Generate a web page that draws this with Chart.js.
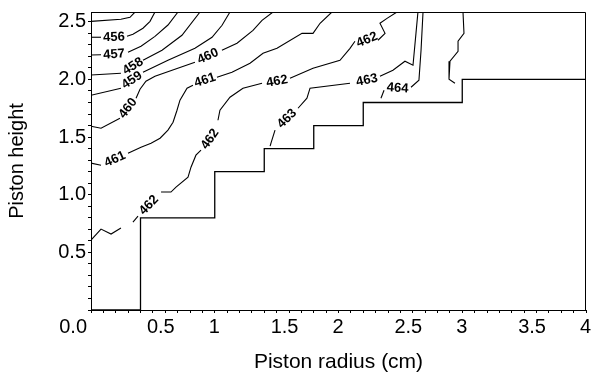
<!DOCTYPE html>
<html>
<head>
<meta charset="utf-8">
<script src="https://cdn.jsdelivr.net/npm/chart.js@4.4.1/dist/chart.umd.min.js"></script>
<style>
  html, body { margin: 0; padding: 0; background: #fff; }
  #wrap { width: 595px; height: 376px; }
</style>
</head>
<body>
<div id="wrap"><canvas id="myChart" width="595" height="376"></canvas></div>
<script>
// contour lines, each one split into pieces where the label sits ([radius, height])
const c455 = [[[0, 2.504], [0.242, 2.522], [0.315, 2.539], [0.356, 2.585]]];
const c456 = [[[0, 2.366], [0.081, 2.366]],
  [[0.291, 2.374], [0.339, 2.392], [0.420, 2.444], [0.477, 2.504], [0.517, 2.585]]];
const c457 = [[[0, 2.212], [0.081, 2.214]],
  [[0.299, 2.236], [0.404, 2.288], [0.517, 2.374], [0.622, 2.472], [0.703, 2.585]]];
const c458 = [[[0, 2.039], [0.242, 2.054]],
  [[0.420, 2.166], [0.574, 2.253], [0.735, 2.383], [0.881, 2.585]]];
const c459 = [[[0, 1.863], [0.242, 1.924]],
  [[0.420, 2.062], [0.622, 2.166], [0.840, 2.270], [0.978, 2.366], [1.059, 2.470], [1.123, 2.585]]];
const c460 = [[[0, 1.594], [0.081, 1.577], [0.234, 1.664]],
  [[0.364, 1.837], [0.396, 1.915], [0.444, 1.984], [0.517, 2.028], [0.655, 2.080], [0.840, 2.149]],
  [[1.058, 2.253], [1.180, 2.314], [1.309, 2.426], [1.382, 2.513], [1.471, 2.585]]];
const c461 = [[[0, 1.274], [0.081, 1.256]],
  [[0.299, 1.360], [0.404, 1.412], [0.485, 1.447], [0.558, 1.490], [0.622, 1.560], [0.663, 1.629],
   [0.695, 1.733], [0.719, 1.820], [0.776, 1.924], [0.824, 1.950]],
  [[1.018, 2.019], [1.139, 2.062], [1.285, 2.140], [1.390, 2.227], [1.503, 2.270], [1.705, 2.400],
   [1.794, 2.400], [1.851, 2.487], [1.947, 2.585]]];
const c462 = [[[0, 0.607], [0.081, 0.702], [0.162, 0.659], [0.242, 0.711]],
  [[0.339, 0.763], [0.380, 0.815]],
  [[0.566, 1.023], [0.646, 1.023], [0.687, 1.066], [0.784, 1.153], [0.808, 1.239], [0.848, 1.343], [0.889, 1.386]],
  [[1.026, 1.646], [1.042, 1.733], [1.123, 1.846], [1.228, 1.924], [1.382, 1.967]],
  [[1.608, 2.010], [1.794, 2.097], [2.012, 2.166], [2.093, 2.270], [2.133, 2.331]],
  [[2.319, 2.340], [2.376, 2.400], [2.335, 2.487], [2.392, 2.530], [2.473, 2.585]]];
const c463 = [[[1.447, 1.421], [1.487, 1.560]],
  [[1.673, 1.750], [1.745, 1.837], [1.770, 1.924], [2.093, 1.967]],
  [[2.335, 2.028], [2.440, 2.080], [2.537, 2.158], [2.602, 2.123], [2.626, 2.400], [2.642, 2.585]]];
const c464 = [[[2.343, 1.837], [2.368, 1.906]],
  [[2.586, 1.932], [2.650, 1.993], [2.667, 2.253], [2.683, 2.585]]];
const c465 = [[[3.006, 2.585], [3.014, 2.400], [2.966, 2.331], [2.966, 2.244], [2.901, 2.158], [2.893, 2.002], [2.941, 1.967]]];

// stepped boundary of the feasible region
const boundX = [0, 0.4, 0.4, 1, 1, 1.4, 1.4, 1.8, 1.8, 2.2, 2.2, 3, 3, 4];
const boundY = [0, 0, 0.8, 0.8, 1.2, 1.2, 1.4, 1.4, 1.6, 1.6, 1.8, 1.8, 2, 2];

// contour labels
const labelText  = ['456', '457', '458', '459', '460', '460', '461', '461', '462', '462', '462', '462', '463', '463', '464'];
const labelX     = [0.186, 0.186, 0.339, 0.331, 0.299, 0.945, 0.194, 0.921, 0.469, 0.962, 1.503, 2.230, 1.584, 2.230, 2.477];
const labelY     = [2.366, 2.218, 2.114, 1.993, 1.750, 2.201, 1.308, 1.993, 0.910, 1.482, 1.984, 2.344, 1.659, 1.993, 1.924];
const labelAngle = [-2, -4, -32, -34, -52, -24, -24, -18, -46, -55, -10, -22, -44, -12, 4];

// tick labels
const xTickValues = [0, 0.5, 1, 1.5, 2, 2.5, 3, 3.5, 4];
const xTickLabels = ['0.0', '0.5', '1', '1.5', '2', '2.5', '3', '3.5', '4'];
const yTickValues = [0.5, 1, 1.5, 2, 2.5];
const yTickLabels = ['0.5', '1.0', '1.5', '2.0', '2.5'];

const FONT = "'Liberation Sans', Arial, sans-serif";
Chart.defaults.font.family = FONT;
Chart.defaults.color = '#000';

function findLabel(v, values, labels) {
  for (let i = 0; i < values.length; i++) {
    if (Math.abs(v - values[i]) < 1e-6) return labels[i];
  }
  return '';
}

const datasets = [];
[c455, c456, c457, c458, c459, c460, c461, c462, c463, c464, c465].forEach(c => {
  c.forEach(seg => {
    datasets.push({
      data: seg.map(p => ({ x: p[0], y: p[1] })),
      showLine: true,
      borderColor: '#000',
      borderWidth: 1.1,
      pointRadius: 0,
      tension: 0
    });
  });
});
datasets.push({
  data: boundX.map((x, i) => ({ x: x, y: boundY[i] })),
  showLine: true,
  borderColor: '#000',
  borderWidth: 1.3,
  pointRadius: 0,
  tension: 0
});

// draws the value labels on the contours, the top/right frame and the corner "0.0"
const contourLabels = {
  id: 'contourLabels',
  afterDatasetsDraw(chart) {
    const { ctx, scales: { x, y } } = chart;
    ctx.save();
    ctx.font = 'bold 13px ' + FONT;
    ctx.fillStyle = '#000';
    ctx.textAlign = 'center';
    ctx.textBaseline = 'middle';
    for (let i = 0; i < labelText.length; i++) {
      ctx.save();
      ctx.translate(x.getPixelForValue(labelX[i]), y.getPixelForValue(labelY[i]));
      ctx.rotate(labelAngle[i] * Math.PI / 180);
      ctx.fillText(labelText[i], 0, 0);
      ctx.restore();
    }
    ctx.restore();
  },
  afterDraw(chart) {
    const { ctx, chartArea: a, scales: { x } } = chart;
    ctx.save();
    ctx.strokeStyle = '#000';
    ctx.lineWidth = 1;
    const l = Math.round(a.left) + 0.5, t = Math.round(a.top) + 0.5;
    const r = Math.round(a.right) - 0.5, b = Math.round(a.bottom) + 0.5;
    ctx.beginPath();
    ctx.moveTo(l, t);
    ctx.lineTo(r, t);
    ctx.lineTo(r, b);
    ctx.stroke();

    const item = x.getLabelItems()[0];
    ctx.font = '20px ' + FONT;
    ctx.fillStyle = '#000';
    ctx.textAlign = 'right';
    ctx.textBaseline = item.options.textBaseline;
    ctx.fillText(xTickLabels[0], x.getPixelForValue(0) - 4, item.options.translation[1] + item.textOffset);
    ctx.restore();
  }
};

new Chart(document.getElementById('myChart'), {
  type: 'scatter',
  data: { datasets: datasets },
  options: {
    responsive: false,
    animation: false,
    devicePixelRatio: 1,
    layout: { padding: { left: 0, right: 9, top: 12, bottom: 0 } },
    plugins: { legend: { display: false }, tooltip: { enabled: false } },
    scales: {
      x: {
        type: 'linear',
        min: 0,
        max: 4,
        ticks: {
          stepSize: 0.1,
          autoSkip: false,
          includeBounds: false,
          maxRotation: 0,
          minRotation: 0,
          align: 'start',
          labelOffset: -6,
          padding: 2,
          font: { size: 20 },
          color: '#000',
          callback: v => (Math.abs(v) < 1e-6 ? '' : findLabel(v, xTickValues, xTickLabels))
        },
        grid: { drawOnChartArea: false, tickLength: 3, tickColor: '#000' },
        border: { color: '#000', width: 1 },
        title: { display: true, text: 'Piston radius (cm)', font: { size: 21 }, color: '#000', padding: { top: 0, bottom: 1 } },
        afterFit(s) { s.height = 66; s.paddingLeft = 0; s.paddingRight = 0; }
      },
      y: {
        type: 'linear',
        min: 0,
        max: 2.585,
        ticks: {
          stepSize: 0.1,
          autoSkip: false,
          includeBounds: false,
          padding: 2,
          font: { size: 20 },
          color: '#000',
          callback: v => findLabel(v, yTickValues, yTickLabels)
        },
        grid: { drawOnChartArea: false, tickLength: 3, tickColor: '#000' },
        border: { color: '#000', width: 1 },
        title: { display: true, text: 'Piston height', font: { size: 20 }, color: '#000', padding: { top: 5, bottom: 0 } },
        afterFit(s) { s.width = 91; s.paddingTop = 0; s.paddingBottom = 0; }
      }
    }
  },
  plugins: [contourLabels]
});
</script>
</body>
</html>
